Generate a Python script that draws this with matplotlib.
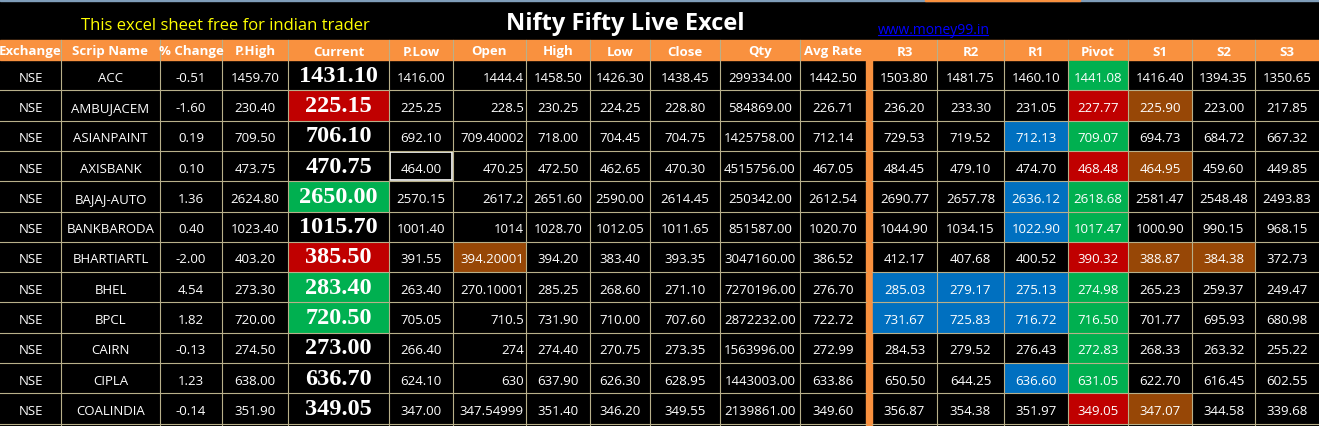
import matplotlib.pyplot as plt
from matplotlib.patches import Rectangle

# column headers and cell values
headers = ["Exchange", "Scrip Name", "% Change", "P.High", "Current", "P.Low", "Open",
           "High", "Low", "Close", "Qty", "Avg Rate", "", "R3", "R2", "R1", "Pivot",
           "S1", "S2", "S3"]
col_edges = [0, 61, 160, 222, 288, 389, 453, 526, 590, 650, 720, 800, 866, 872,
             937, 1004, 1068, 1128, 1192, 1255, 1319]

scrips = ["ACC", "AMBUJACEM", "ASIANPAINT", "AXISBANK", "BAJAJ-AUTO", "BANKBARODA",
          "BHARTIARTL", "BHEL", "BPCL", "CAIRN", "CIPLA", "COALINDIA"]
pct_change = ["-0.51", "-1.60", "0.19", "0.10", "1.36", "0.40", "-2.00", "4.54", "1.82", "-0.13", "1.23", "-0.14"]
p_high = ["1459.70", "230.40", "709.50", "473.75", "2624.80", "1023.40", "403.20", "273.30", "720.00", "274.50", "638.00", "351.90"]
current = ["1431.10", "225.15", "706.10", "470.75", "2650.00", "1015.70", "385.50", "283.40", "720.50", "273.00", "636.70", "349.05"]
p_low = ["1416.00", "225.25", "692.10", "464.00", "2570.15", "1001.40", "391.55", "263.40", "705.05", "266.40", "624.10", "347.00"]
open_ = ["1444.4", "228.5", "709.40002", "470.25", "2617.2", "1014", "394.20001", "270.10001", "710.5", "274", "630", "347.54999"]
high = ["1458.50", "230.25", "718.00", "472.50", "2651.60", "1028.70", "394.20", "285.25", "731.90", "274.40", "637.90", "351.40"]
low = ["1426.30", "224.25", "704.45", "462.65", "2590.00", "1012.05", "383.40", "268.60", "710.00", "270.75", "626.30", "346.20"]
close = ["1438.45", "228.80", "704.75", "470.30", "2614.45", "1011.65", "393.35", "271.10", "707.60", "273.35", "628.95", "349.55"]
qty = ["299334.00", "584869.00", "1425758.00", "4515756.00", "250342.00", "851587.00", "3047160.00", "7270196.00", "2872232.00", "1563996.00", "1443003.00", "2139861.00"]
avg_rate = ["1442.50", "226.71", "712.14", "467.05", "2612.54", "1020.70", "386.52", "276.70", "722.72", "272.99", "633.86", "349.60"]
r3 = ["1503.80", "236.20", "729.53", "484.45", "2690.77", "1044.90", "412.17", "285.03", "731.67", "284.53", "650.50", "356.87"]
r2 = ["1481.75", "233.30", "719.52", "479.10", "2657.78", "1034.15", "407.68", "279.17", "725.83", "279.52", "644.25", "354.38"]
r1 = ["1460.10", "231.05", "712.13", "474.70", "2636.12", "1022.90", "400.52", "275.13", "716.72", "276.43", "636.60", "351.97"]
pivot = ["1441.08", "227.77", "709.07", "468.48", "2618.68", "1017.47", "390.32", "274.98", "716.50", "272.83", "631.05", "349.05"]
s1 = ["1416.40", "225.90", "694.73", "464.95", "2581.47", "1000.90", "388.87", "265.23", "701.77", "268.33", "622.70", "347.07"]
s2 = ["1394.35", "223.00", "684.72", "459.60", "2548.48", "990.15", "384.38", "259.37", "695.93", "263.32", "616.45", "344.58"]
s3 = ["1350.65", "217.85", "667.32", "449.85", "2493.83", "968.15", "372.73", "249.47", "680.98", "255.22", "602.55", "339.68"]

# conditional fill per row: {column index: colour key}
fills = [
    {16: "g"},
    {4: "r", 16: "r", 17: "b"},
    {15: "u", 16: "g"},
    {16: "r", 17: "b"},
    {4: "g", 15: "u", 16: "g"},
    {15: "u", 16: "g"},
    {4: "r", 6: "b", 16: "r", 17: "b", 18: "b"},
    {4: "g", 13: "u", 14: "u", 15: "u", 16: "g"},
    {4: "g", 13: "u", 14: "u", 15: "u", 16: "g"},
    {16: "g"},
    {15: "u", 16: "g"},
    {16: "r", 17: "b"},
]
colours = {"g": "#00B050", "r": "#C00000", "u": "#0070C0", "b": "#974706"}
orange = "#F9913F"
grid = "#B8B08A"

columns = [["NSE"] * 12, scrips, pct_change, p_high, current, p_low, open_, high, low,
           close, qty, avg_rate, [""] * 12, r3, r2, r1, pivot, s1, s2, s3]

fig = plt.figure(figsize=(13.19, 4.27), dpi=100, facecolor="black")
ax = fig.add_axes([0, 0, 1, 1])
ax.set_xlim(0, 1319)
ax.set_ylim(427, 0)
ax.axis("off")
ax.add_patch(Rectangle((0, 0), 1319, 427, color="black"))
ax.add_patch(Rectangle((0, 0), 1319, 2, color="#7F9DB9"))
ax.add_patch(Rectangle((925, 0), 155, 2, color=orange))

font = ["Liberation Sans Narrow", "Open Sans", "DejaVu Sans"]
ax.text(225, 26, "This excel sheet free for indian trader", color="#FFFF00", fontsize=12,
        family=font, ha="center", va="center")
ax.text(625, 24, "Nifty Fifty Live Excel", color="white", fontsize=17, fontweight="bold",
        family=font, ha="center", va="center")
ax.text(878, 30, "www.money99.in", color="#0000FF", fontsize=10, family=font,
        ha="left", va="center")
ax.plot([878, 988], [36, 36], color="#0000FF", lw=0.8)

head_top, head_bot = 41, 61
row_h = 30.3
ax.add_patch(Rectangle((0, head_top), 1319, head_bot - head_top, color=orange))
for j, h in enumerate(headers):
    x0, x1 = col_edges[j], col_edges[j + 1]
    ax.text((x0 + x1) / 2, (head_top + head_bot) / 2 + 1, h, color="white", fontsize=9.5,
            fontweight="bold", family=font, ha="center", va="center")

n = len(scrips)
ax.add_patch(Rectangle((866, head_bot), 6, 427 - head_bot, color=orange))
for i in range(n):
    y0 = head_bot + row_h * i
    for j, col in enumerate(columns):
        if j == 12:
            continue
        x0, x1 = col_edges[j], col_edges[j + 1]
        c = fills[i].get(j)
        if c:
            ax.add_patch(Rectangle((x0 + 1, y0 + 1), x1 - x0 - 2, row_h - 2, color=colours[c]))
        yc = y0 + row_h / 2 + 2
        if j == 4:
            ax.text((x0 + x1) / 2, y0 + row_h / 2, col[i], color="white", fontsize=17.5,
                    fontweight="bold", family="Liberation Serif", ha="center", va="center")
        elif j == 6:
            ax.text(x1 - 2, yc, col[i], color="white", fontsize=9.5, family=font,
                    ha="right", va="center")
        else:
            ax.text((x0 + x1) / 2, yc, col[i], color="white", fontsize=9.5, family=font,
                    ha="center", va="center")
    ax.plot([0, 866], [y0 + row_h, y0 + row_h], color=grid, lw=0.8)
    ax.plot([872, 1319], [y0 + row_h, y0 + row_h], color=grid, lw=0.8)

for x in col_edges[1:-1]:
    if x in (866, 872):
        continue
    ax.plot([x, x], [head_top, 427], color=grid, lw=0.8)

# selected cell on AXISBANK P.Low
ax.add_patch(Rectangle((390, head_bot + row_h * 3 + 1), 62, row_h - 2, fill=False,
                       edgecolor="white", lw=1.2))

fig.savefig("out.png", dpi=100, facecolor="black")
